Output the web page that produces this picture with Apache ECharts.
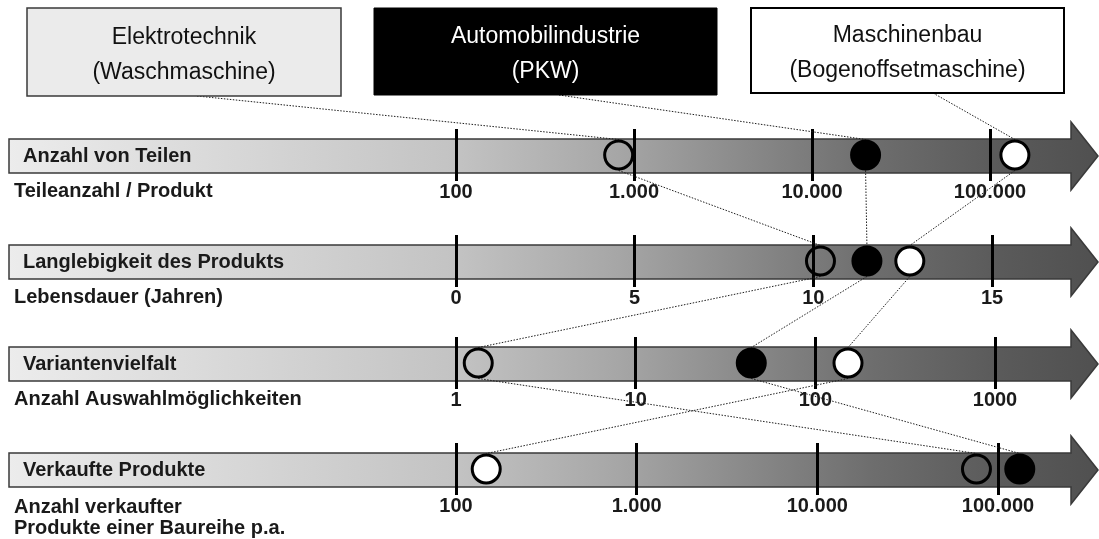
<!DOCTYPE html>
<html><head><meta charset="utf-8">
<script src="https://cdn.jsdelivr.net/npm/echarts@6/dist/echarts.min.js"></script>
<style>html,body{margin:0;padding:0;background:#fff}#c{width:1099px;height:539px}</style>
</head><body><div id="c"></div>
<script>
// ---- data ----
const industries = ['Elektrotechnik', 'Automobilindustrie', 'Maschinenbau'];
const industryProducts = ['(Waschmaschine)', '(PKW)', '(Bogenoffsetmaschine)'];
const rowTitles = ['Anzahl von Teilen', 'Langlebigkeit des Produkts', 'Variantenvielfalt', 'Verkaufte Produkte'];
const rowUnits = ['Teileanzahl / Produkt', 'Lebensdauer (Jahren)', 'Anzahl Auswahlmöglichkeiten', 'Anzahl verkaufter\nProdukte einer Baureihe p.a.'];
// values per industry: [Elektrotechnik, Automobilindustrie, Maschinenbau]
const teileProProdukt = [820, 20000, 138000];
const lebensdauerJahre = [10.2, 11.5, 12.7];
const auswahlmoeglichkeiten = [1.33, 44, 152];
const verkaufteProdukte = [76000, 132000, 147];
// tick values / labels
const teileTickValues = [100, 1000, 10000, 100000];
const teileTickLabels = ['100', '1.000', '10.000', '100.000'];
const jahreTickValues = [0, 5, 10, 15];
const jahreTickLabels = ['0', '5', '10', '15'];
const variantenTickValues = [1, 10, 100, 1000];
const variantenTickLabels = ['1', '10', '100', '1000'];
const verkaufTickValues = [100, 1000, 10000, 100000];
const verkaufTickLabels = ['100', '1.000', '10.000', '100.000'];

// ---- layout / style ----
const rowValues = [teileProProdukt, lebensdauerJahre, auswahlmoeglichkeiten, verkaufteProdukte];
const rowTickValues = [teileTickValues, jahreTickValues, variantenTickValues, verkaufTickValues];
const rowTickLabels = [teileTickLabels, jahreTickLabels, variantenTickLabels, verkaufTickLabels];
const rowAxisType = ['log', 'value', 'log', 'log'];
const rowCenters = [156, 262, 364, 470];
const axisLeft = 456;
const axisRightEnd = [990, 992, 995, 998];
const FONT = '"Liberation Sans", Arial, Helvetica, sans-serif';
const R = 15.5;
const circleStyles = [
  { color: 'rgba(0,0,0,0)', borderColor: '#000', borderWidth: 3, opacity: 1 },
  { color: '#000', borderColor: '#000', borderWidth: 3, opacity: 1 },
  { color: '#fff', borderColor: '#000', borderWidth: 3, opacity: 1 }
];
const boxes = [
  { x: 27, y: 8, w: 314, h: 88, fill: '#ebebeb', stroke: '#3a3a3a', lw: 1.5, text: '#111', lineFrom: [197, 96] },
  { x: 374, y: 8, w: 343, h: 87, fill: '#000', stroke: '#000', lw: 1, text: '#fff', lineFrom: [559, 95] },
  { x: 751, y: 8, w: 313, h: 85, fill: '#fff', stroke: '#000', lw: 2, text: '#111', lineFrom: [933, 93] }
];

const grids = [], xAxes = [], yAxes = [], series = [];
rowValues.forEach((vals, r) => {
  const c = rowCenters[r];
  grids.push({ left: axisLeft, width: axisRightEnd[r] - axisLeft, top: c - 27, height: 52 });
  const tv = rowTickValues[r], tl = rowTickLabels[r];
  const ax = {
    type: rowAxisType[r], gridIndex: r, min: tv[0], max: tv[tv.length - 1],
    axisLine: { show: false }, axisTick: { show: false },
    splitLine: { show: true, lineStyle: { color: '#000', width: 3 } },
    axisLabel: {
      margin: 1, color: '#1a1a1a', fontSize: 20, fontWeight: 'bold', fontFamily: FONT,
      showMinLabel: true, showMaxLabel: true,
      formatter: function (v) {
        const i = tv.findIndex(t => Math.abs(t - v) <= Math.abs(t) * 1e-6 + 1e-9);
        return i >= 0 ? tl[i] : '';
      }
    }
  };
  if (rowAxisType[r] === 'log') ax.logBase = 10; else ax.interval = 5;
  xAxes.push(ax);
  yAxes.push({ type: 'value', gridIndex: r, min: -1, max: 1, show: false });
  series.push({
    type: 'scatter', xAxisIndex: r, yAxisIndex: r, clip: false, silent: true, z: 5,
    symbol: 'circle', symbolSize: 2 * R - 3,
    emphasis: { disabled: true },
    itemStyle: { opacity: 1 },
    data: vals.map((v, k) => ({ name: industries[k], value: [v, 0], itemStyle: circleStyles[k] }))
  });
});

function staticGraphics() {
  const g = [];
  rowCenters.forEach((c, r) => {
    g.push({
      type: 'polygon', z: -1, silent: true,
      shape: { points: [[9, c - 17], [1071, c - 17], [1071, c - 34], [1098, c], [1071, c + 34], [1071, c + 17], [9, c + 17]] },
      style: {
        stroke: '#3a3a3a', lineWidth: 1.5,
        fill: new echarts.graphic.LinearGradient(0, 0, 1, 0, [
          { offset: 0, color: '#ececec' }, { offset: 0.41, color: '#c3c3c3' },
          { offset: 0.56, color: '#a6a6a6' }, { offset: 0.674, color: '#8a8a8a' },
          { offset: 0.79, color: '#6e6e6e' }, { offset: 0.91, color: '#5a5a5a' },
          { offset: 1, color: '#505050' }
        ])
      }
    });
    g.push({ type: 'text', x: 23, y: c, z: 3, silent: true,
      style: { text: rowTitles[r], fill: '#1a1a1a', font: 'bold 20px ' + FONT, verticalAlign: 'middle', align: 'left' } });
    g.push({ type: 'text', x: 14, y: c + (r === 3 ? 27 : 25), z: 3, silent: true,
      style: { text: rowUnits[r], fill: '#1a1a1a', font: 'bold 20px ' + FONT, lineHeight: 21, verticalAlign: 'top', align: 'left' } });
  });
  boxes.forEach((b, k) => {
    g.push({ type: 'rect', z: 2, silent: true, shape: { x: b.x, y: b.y, width: b.w, height: b.h },
      style: { fill: b.fill, stroke: b.stroke, lineWidth: b.lw } });
    g.push({ type: 'text', x: b.x + b.w / 2, y: b.y + b.h / 2 + 3, z: 3, silent: true,
      style: { text: industries[k] + '\n' + industryProducts[k], fill: b.text, font: '23px ' + FONT,
        lineHeight: 35, align: 'center', verticalAlign: 'middle' } });
  });
  return g;
}

const chart = echarts.init(document.getElementById('c'), null, { renderer: 'canvas' });
chart.setOption({
  animation: false, backgroundColor: '#fff',
  grid: grids, xAxis: xAxes, yAxis: yAxes, series: series,
  graphic: { elements: staticGraphics() }
});

// connector lines computed through the axes
const lineStyle = { stroke: '#1e1e1e', lineWidth: 1, lineDash: [1.5, 1.5] };
const pts = rowValues.map((vals, r) => vals.map(v => chart.convertToPixel({ gridIndex: r }, [v, 0])));
const lines = [];
boxes.forEach((b, k) => {
  lines.push({ type: 'line', z: 1, silent: true, shape: { x1: b.lineFrom[0], y1: b.lineFrom[1], x2: pts[0][k][0], y2: pts[0][k][1] - R }, style: lineStyle });
});
for (let r = 0; r < rowValues.length - 1; r++) {
  for (let k = 0; k < industries.length; k++) {
    lines.push({ type: 'line', z: 1, silent: true,
      shape: { x1: pts[r][k][0], y1: pts[r][k][1] + R, x2: pts[r + 1][k][0], y2: pts[r + 1][k][1] - R }, style: lineStyle });
  }
}
chart.setOption({ graphic: { elements: staticGraphics().concat(lines) } }, { replaceMerge: ['graphic'] });
</script>
</body></html>
